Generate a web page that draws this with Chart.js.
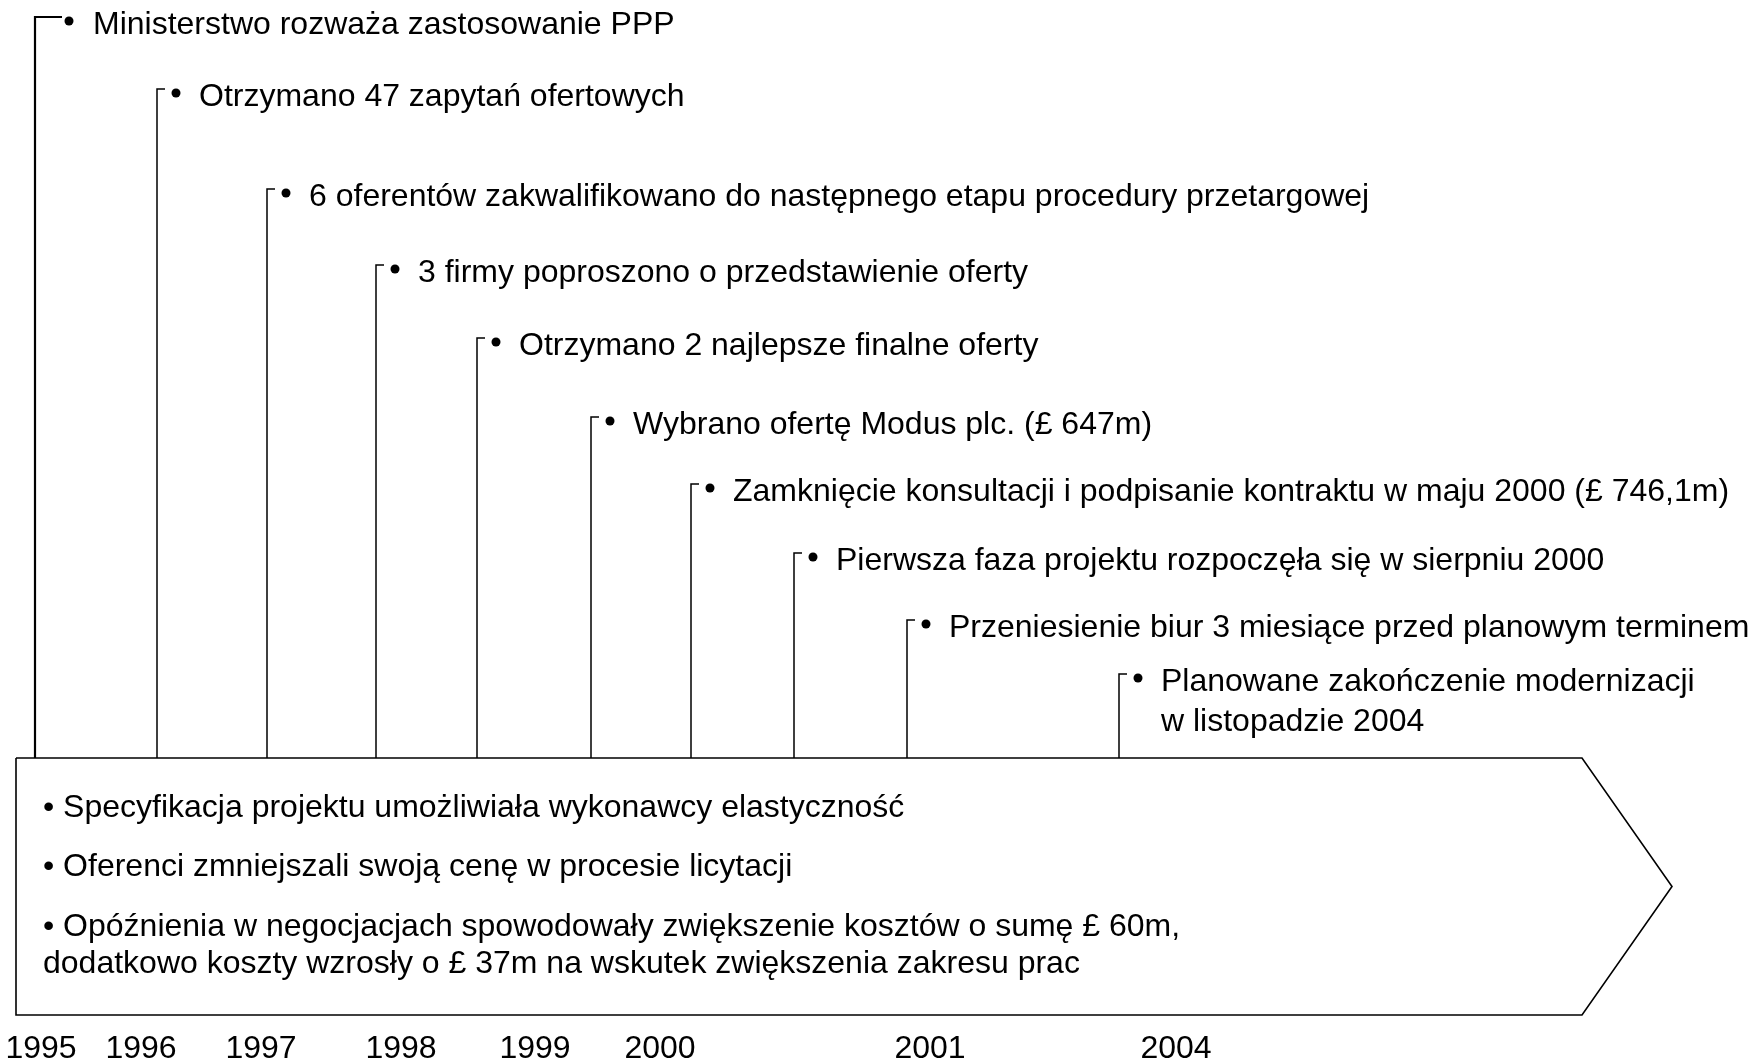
<!DOCTYPE html>
<html>
<head>
<meta charset="utf-8">
<script src="https://cdn.jsdelivr.net/npm/chart.js@4.4.0/dist/chart.umd.min.js"></script>
<style>
  body { margin: 0; background: #ffffff; }
  #wrap { width: 1756px; height: 1062px; }
</style>
</head>
<body>
<div id="wrap"><canvas id="timeline"></canvas></div>
<script>
// events, top to bottom
const eventLabels = [
  ['Ministerstwo rozważa zastosowanie PPP'],
  ['Otrzymano 47 zapytań ofertowych'],
  ['6 oferentów zakwalifikowano do następnego etapu procedury przetargowej'],
  ['3 firmy poproszono o przedstawienie oferty'],
  ['Otrzymano 2 najlepsze finalne oferty'],
  ['Wybrano ofertę Modus plc. (£ 647m)'],
  ['Zamknięcie konsultacji i podpisanie kontraktu w maju 2000 (£ 746,1m)'],
  ['Pierwsza faza projektu rozpoczęła się w sierpniu 2000'],
  ['Przeniesienie biur 3 miesiące przed planowym terminem'],
  ['Planowane zakończenie modernizacji', 'w listopadzie 2004']
];
// position of each event on the timeline and height of its label
const eventPos = [35, 157, 267, 376, 477, 591, 691, 794, 907, 1119];
const eventLevel = [17, 89, 189, 265, 338, 417, 484, 553, 620, 674];

// year ticks under the band
const years = ['1995', '1996', '1997', '1998', '1999', '2000', '2001', '2004'];
const yearPos = [41, 141, 261, 401, 535, 660, 930, 1176];

// notes inside the arrow
const notes = [
  '• Specyfikacja projektu umożliwiała wykonawcy elastyczność',
  '• Oferenci zmniejszali swoją cenę w procesie licytacji',
  '• Opóźnienia w negocjacjach spowodowały zwiększenie kosztów o sumę £ 60m,',
  'dodatkowo koszty wzrosły o £ 37m na wskutek zwiększenia zakresu prac'
];
const noteLevel = [807, 866, 926, 963];

// the arrow band
const bandStart = 16, bandEnd = 1582, bandTip = 1672;
const bandTop = 758, bandBottom = 1015;

const FONT = '32px "Liberation Sans", Arial, sans-serif';

const datasets = [];

datasets.push({
  label: 'band',
  data: [
    { x: bandStart, y: bandTop }, { x: bandEnd, y: bandTop },
    { x: bandTip, y: (bandTop + bandBottom) / 2 },
    { x: bandEnd, y: bandBottom }, { x: bandStart, y: bandBottom },
    { x: bandStart, y: bandTop }
  ],
  showLine: true, borderColor: '#000', borderWidth: 1.6,
  pointRadius: 0, fill: false, tension: 0
});

eventPos.forEach((p, i) => {
  const arm = i === 0 ? 27 : 8;
  datasets.push({
    label: 'event' + i,
    data: [{ x: p, y: bandTop }, { x: p, y: eventLevel[i] }, { x: p + arm, y: eventLevel[i] }],
    showLine: true, borderColor: '#000', borderWidth: i === 0 ? 2.2 : 1.5,
    pointRadius: 0, fill: false, tension: 0
  });
});

datasets.push({
  label: 'dots',
  data: eventPos.map((p, i) => ({ x: p + (i === 0 ? 34 : 19), y: eventLevel[i] + 4 })),
  showLine: false, pointRadius: 4.5, pointBackgroundColor: '#000', pointBorderWidth: 0
});

const textPlugin = {
  id: 'texts',
  afterDatasetsDraw(chart) {
    const ctx = chart.ctx;
    const xs = chart.scales.x, ys = chart.scales.y;
    ctx.save();
    ctx.fillStyle = '#000';
    ctx.font = FONT;
    ctx.textBaseline = 'alphabetic';
    ctx.textAlign = 'left';
    eventLabels.forEach((lines, i) => {
      const tx = xs.getPixelForValue(eventPos[i] + (i === 0 ? 58 : 42));
      lines.forEach((t, j) => {
        ctx.fillText(t, tx, ys.getPixelForValue(eventLevel[i] + 17 + j * 40));
      });
    });
    notes.forEach((t, i) => {
      ctx.fillText(t, xs.getPixelForValue(43), ys.getPixelForValue(noteLevel[i] + 10));
    });
    ctx.textAlign = 'center';
    years.forEach((y, i) => {
      ctx.fillText(y, xs.getPixelForValue(yearPos[i]), ys.getPixelForValue(1058));
    });
    ctx.restore();
  }
};

new Chart(document.getElementById('timeline'), {
  type: 'scatter',
  data: { datasets: datasets },
  options: {
    responsive: true,
    maintainAspectRatio: false,
    animation: false,
    layout: { padding: 0, autoPadding: false },
    plugins: { legend: { display: false }, tooltip: { enabled: false } },
    scales: {
      x: { type: 'linear', display: false, min: 0, max: 1756 },
      y: { type: 'linear', display: false, min: 0, max: 1062, reverse: true }
    }
  },
  plugins: [textPlugin]
});
</script>
</body>
</html>
